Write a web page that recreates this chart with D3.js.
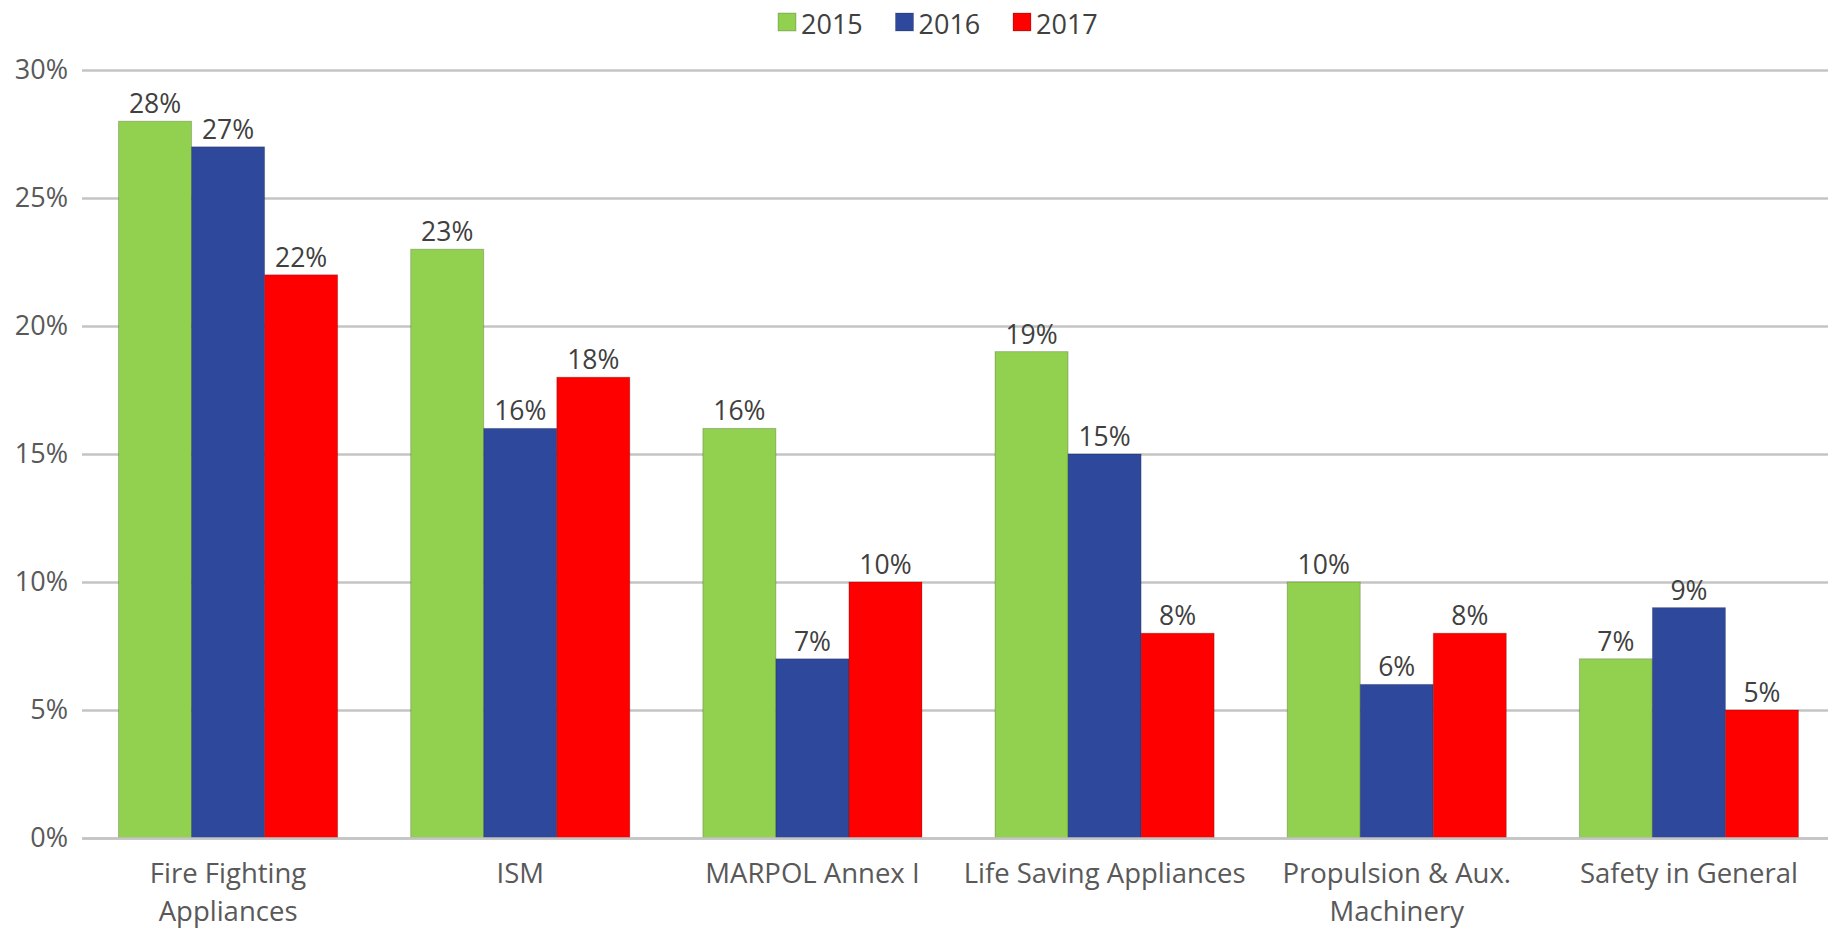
<!DOCTYPE html>
<html>
<head>
<meta charset="utf-8">
<script src="https://cdn.jsdelivr.net/npm/d3@7"></script>
<style>
  body { margin: 0; background: #fff; }
  svg { display: block; font-family: "Open Sans", sans-serif; }
</style>
</head>
<body>
<svg id="chart"></svg>
<script>
// datos del gráfico
const categorias = ["Fire Fighting Appliances", "ISM", "MARPOL Annex I", "Life Saving Appliances", "Propulsion & Aux. Machinery", "Safety in General"];
const etiquetas = [["Fire Fighting", "Appliances"], ["ISM"], ["MARPOL Annex I"], ["Life Saving Appliances"], ["Propulsion & Aux.", "Machinery"], ["Safety in General"]];
const series = ["2015", "2016", "2017"];
const v2015 = [28, 23, 16, 19, 10, 7];
const v2016 = [27, 16, 7, 15, 6, 9];
const v2017 = [22, 18, 10, 8, 8, 5];
const ticksY = [0, 5, 10, 15, 20, 25, 30];
const colores = ["#92D050", "#2E489C", "#FF0000"];

const valores = [v2015, v2016, v2017];
const W = 1828, H = 928;
const margin = { top: 70, left: 82, bottom: 90 };
const y0 = 838;

const svg = d3.select("#chart").attr("width", W).attr("height", H);

// escalas
const x = d3.scaleBand().domain(categorias).range([margin.left, 1835]).padding(0);
const xs = d3.scaleBand().domain(series)
    .range([x.bandwidth() * 0.125, x.bandwidth() * 0.875]).padding(0);
const y = d3.scaleLinear().domain([0, 30]).range([y0, margin.top]);

// rejilla + eje Y
const gy = svg.append("g")
    .attr("transform", `translate(${margin.left},0)`)
    .call(d3.axisLeft(y).tickValues(ticksY).tickFormat(d => d + "%").tickSize(-(W - margin.left)).tickPadding(14));
gy.select(".domain").remove();
gy.selectAll(".tick line").attr("stroke", "#c4c4c4").attr("stroke-width", 2.5);
gy.selectAll(".tick text").attr("fill", "#595959").attr("font-size", 27).attr("font-family", "Open Sans, sans-serif");

// barras
const grupos = svg.append("g").selectAll("g")
    .data(categorias)
    .join("g")
    .attr("transform", c => `translate(${x(c)},0)`);

grupos.selectAll("rect")
    .data((c, i) => series.map((s, j) => ({ s, v: valores[j][i], j })))
    .join("rect")
    .attr("x", d => xs(d.s))
    .attr("width", xs.bandwidth())
    .attr("y", d => y(d.v))
    .attr("height", d => y0 - y(d.v))
    .attr("fill", d => colores[d.j])
    .attr("stroke", "rgba(0,0,0,0.2)")
    .attr("stroke-width", 1);

grupos.selectAll("text.lbl")
    .data((c, i) => series.map((s, j) => ({ s, v: valores[j][i] })))
    .join("text")
    .attr("class", "lbl")
    .attr("x", d => xs(d.s) + xs.bandwidth() / 2)
    .attr("y", d => y(d.v) - 8)
    .attr("text-anchor", "middle")
    .attr("font-size", 26.5)
    .attr("fill", "#404040")
    .text(d => d.v + "%");

// eje X
const gx = svg.append("g")
    .attr("transform", `translate(0,${y0})`)
    .call(d3.axisBottom(x).tickSize(0).tickFormat(""));
gx.select(".domain").attr("stroke", "#c4c4c4").attr("stroke-width", 2.5);
gx.selectAll(".tick").each(function (c, i) {
    const t = d3.select(this).append("text")
        .attr("fill", "#595959")
        .attr("font-size", 27.5)
        .attr("font-family", "Open Sans, sans-serif")
        .attr("text-anchor", "middle");
    etiquetas[i].forEach((l, k) => {
        t.append("tspan").attr("x", 0).attr("y", 45 + k * 38).text(l);
    });
});

// leyenda
const leyenda = svg.append("g").selectAll("g")
    .data(series)
    .join("g")
    .attr("transform", (d, i) => `translate(${778 + i * 117.5},13)`);
leyenda.append("rect")
    .attr("width", 18).attr("height", 18)
    .attr("fill", (d, i) => colores[i])
    .attr("stroke", "rgba(0,0,0,0.2)");
leyenda.append("text")
    .attr("x", 23).attr("y", 21)
    .attr("font-size", 27)
    .attr("fill", "#404040")
    .text(d => d);
</script>
</body>
</html>
